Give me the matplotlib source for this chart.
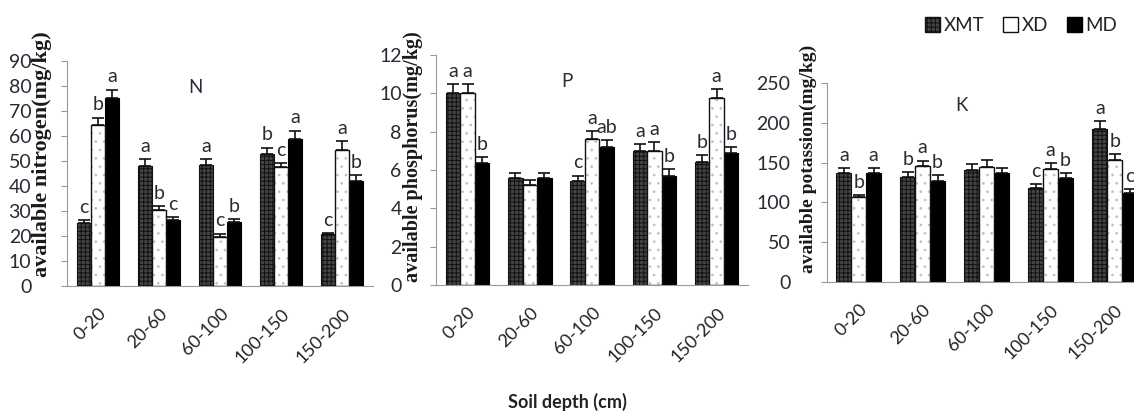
import numpy as np
import matplotlib
matplotlib.use("Agg")
import matplotlib.pyplot as plt
from matplotlib.patches import Patch

## data
depths = ["0-20", "20-60", "60-100", "100-150", "150-200"]
groups = ["XMT", "XD", "MD"]

n_mean = [[25.3, 48.0, 48.4, 53.0, 20.8],
          [64.4, 30.4, 19.7, 47.7, 54.4],
          [75.3, 26.4, 25.7, 58.7, 42.1]]
n_err = [[1.0, 2.7, 2.3, 2.4, 0.5],
         [3.0, 1.7, 1.3, 1.6, 3.5],
         [3.3, 1.3, 1.0, 3.5, 2.3]]
n_let = [["c", "a", "a", "b", "c"],
         ["b", "b", "c", "c", "a"],
         ["a", "c", "b", "a", "b"]]

p_mean = [[10.0, 5.57, 5.43, 7.0, 6.43],
          [10.0, 5.2, 7.6, 7.0, 9.74],
          [6.38, 5.57, 7.18, 5.7, 6.87]]
p_err = [[0.5, 0.3, 0.28, 0.36, 0.35],
         [0.5, 0.26, 0.45, 0.45, 0.47],
         [0.28, 0.3, 0.4, 0.33, 0.31]]
p_let = [["a", "", "c", "a", "b"],
         ["a", "", "a", "a", "a"],
         ["b", "", "ab", "b", "b"]]

k_mean = [[136.8, 131.8, 141.0, 118.4, 192.5],
          [106.7, 145.6, 145.0, 142.0, 152.7],
          [136.8, 126.8, 136.8, 131.0, 111.7]]
k_err = [[6.3, 6.0, 7.5, 5.0, 9.6],
         [2.0, 7.0, 8.0, 7.5, 7.5],
         [6.0, 7.0, 6.7, 6.0, 5.4]]
k_let = [["a", "b", "", "c", "a"],
         ["b", "a", "", "a", "b"],
         ["a", "b", "", "b", "c"]]

txt = "#2a2a35"
plt.rcParams['font.family'] = ['Lato', 'DejaVu Sans']
plt.rcParams['hatch.linewidth'] = 0.7

fig = plt.figure(figsize=(11.34, 4.19), dpi=100)

def panel(rect, means, errs, lets, ymax, step, ylabel, name, ylab_pos, tpad, lsize):
    ax = fig.add_axes(rect)
    x = np.arange(len(depths))
    w = 0.233
    for k in range(3):
        xs = x + (k - 1) * w
        m = np.array(means[k])
        e = np.array(errs[k])
        if k == 0:
            ax.bar(xs, m, w, color="#444444", edgecolor="#111111", hatch="++++", lw=0.8, zorder=2)
        elif k == 1:
            ax.bar(xs, m, w, color="white", edgecolor="#b5c4d2", hatch="..", lw=0, zorder=2)
            ax.bar(xs, m, w, fill=False, edgecolor="#111111", lw=1.0, zorder=3)
        else:
            ax.bar(xs, m, w, color="black", edgecolor="black", lw=0.8, zorder=2)
        ax.errorbar(xs, m, yerr=[np.zeros_like(e), e], fmt="none", ecolor="#111111",
                    elinewidth=1.2, capsize=4, capthick=1.2, zorder=4)
        for xi, mi, ei, l in zip(xs, m, e, lets[k]):
            if l:
                ax.annotate(l, (xi, mi + ei), xytext=(0, 3), textcoords="offset points",
                            ha="center", va="bottom", fontsize=14, color=txt)
    ax.set_xlim(-0.5, 4.5)
    ax.set_ylim(0, ymax)
    ax.set_yticks(np.arange(0, ymax + step / 2, step))
    ax.set_xticks(x)
    ax.set_xticklabels(depths, rotation=45, ha="right", rotation_mode="anchor")
    ax.tick_params(axis="x", length=0, pad=14, labelsize=13, labelcolor="#222222")
    ax.tick_params(axis="y", length=4, color="#9a9a9a", pad=tpad, labelsize=14, labelcolor=txt)
    for s in ["top", "right"]:
        ax.spines[s].set_visible(False)
    for s in ["left", "bottom"]:
        ax.spines[s].set_color("#9a9a9a")
    ax.set_ylabel(ylabel, family="Liberation Serif", fontweight="bold", fontsize=lsize, color="#1a1a1a")
    ax.yaxis.set_label_coords(*ylab_pos)
    ax.text(0.42, 0.86, name, transform=ax.transAxes, fontsize=13.5, color=txt, ha="center")
    return ax

panel([0.0595, 0.3174, 0.269, 0.537], n_mean, n_err, n_let, 90, 10,
      "available nitrogen(mg/kg)", "N", (-0.05, 0.587), 22, 16)
panel([0.3848, 0.3198, 0.2747, 0.5489], p_mean, p_err, p_let, 12, 2,
      "available phosphorus(mg/kg)", "P", (-0.043, 0.56), 21, 14.5)
panel([0.7290, 0.3270, 0.2822, 0.4749], k_mean, k_err, k_let, 250, 50,
      "available potassiom(mg/kg)", "K", (-0.03, 0.62), 22, 14)

handles = [Patch(facecolor="#444444", edgecolor="#111111", hatch="++++"),
           Patch(facecolor="white", edgecolor="#111111"),
           Patch(facecolor="black", edgecolor="black")]
fig.legend(handles, groups, loc="upper right", bbox_to_anchor=(1.0, 1.0), ncol=3,
           frameon=False, handlelength=0.8, handleheight=0.8, handletextpad=0.2,
           columnspacing=1.0, fontsize=13.5, labelcolor="#222222")

fig.text(0.5, 0.04, "Soil depth (cm)", ha="center", va="center", fontsize=13,
         fontweight="bold", color="#222222")

fig.savefig("out.png", dpi=100)
